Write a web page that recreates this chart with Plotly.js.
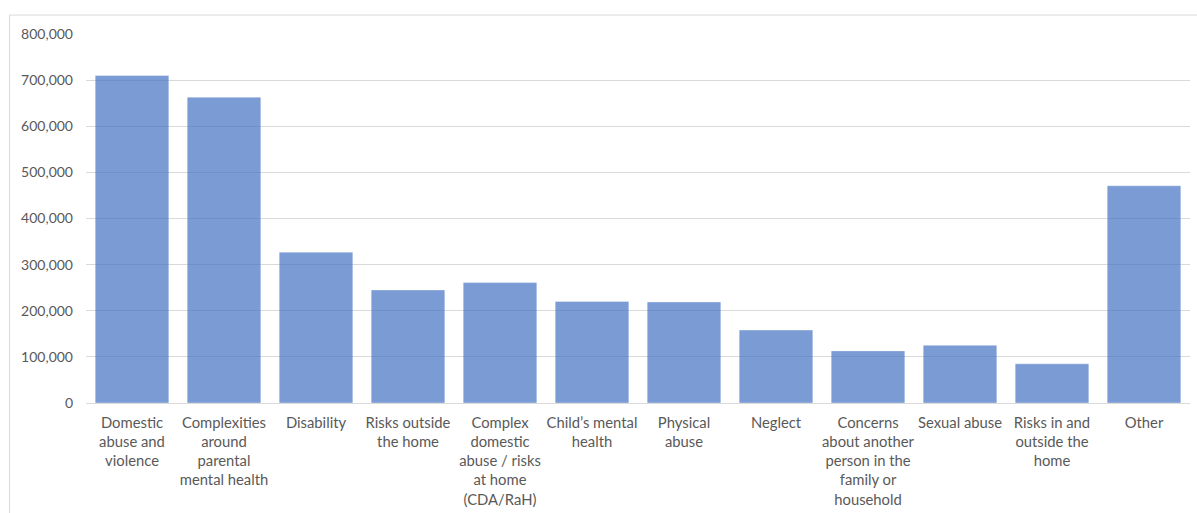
<!DOCTYPE html>
<html>
<head>
<meta charset="utf-8">
<script src="https://cdn.plot.ly/plotly-3.0.1.min.js"></script>
<style>
html,body{margin:0;padding:0;background:#fff;}
#chart{width:1197px;height:513px;}
</style>
</head>
<body>
<div id="chart"></div>
<script>
const categories = [
  "Domestic<br>abuse and<br>violence",
  "Complexities<br>around<br>parental<br>mental health",
  "Disability",
  "Risks outside<br>the home",
  "Complex<br>domestic<br>abuse / risks<br>at home<br>(CDA/RaH)",
  "Child’s mental<br>health",
  "Physical<br>abuse",
  "Neglect",
  "Concerns<br>about another<br>person in the<br>family or<br>household",
  "Sexual abuse",
  "Risks in and<br>outside the<br>home",
  "Other"
];
const values = [710000, 663000, 327000, 245000, 261000, 220000, 219000, 158000, 113000, 125000, 85000, 471000];
const yTickVals = [0, 100000, 200000, 300000, 400000, 500000, 600000, 700000, 800000];
const yTickText = ["0", "100,000", "200,000", "300,000", "400,000", "500,000", "600,000", "700,000", "800,000"];

const fontFamily = "Lato, 'Open Sans', sans-serif";
const textColor = "#595959";

const ml = 86, mr = 7, mt = 33.5, mb = 109.5;
const pw = 1197 - ml - mr, ph = 513 - mt - mb;

const trace = {
  type: "bar",
  x: categories,
  y: values,
  marker: {color: "#4472C4", line: {color: "rgba(255,255,255,0.35)", width: 1}},
  opacity: 0.7,
  hoverinfo: "x+y"
};

const layout = {
  width: 1197,
  height: 513,
  margin: {l: ml, r: mr, t: mt, b: mb, pad: 0},
  paper_bgcolor: "#ffffff",
  plot_bgcolor: "#ffffff",
  bargap: 0.2,
  showlegend: false,
  font: {family: fontFamily, size: 14, color: textColor},
  xaxis: {
    type: "category",
    showgrid: false,
    showline: true,
    linecolor: "#d9d9d9",
    linewidth: 1,
    ticks: "",
    tickangle: 0,
    ticklabelstandoff: 6,
    tickfont: {family: fontFamily, size: 14.8, color: textColor},
    automargin: false
  },
  yaxis: {
    range: [0, 800000],
    tickvals: yTickVals,
    ticktext: yTickText,
    showgrid: true,
    gridcolor: "#d9d9d9",
    gridwidth: 1,
    zeroline: false,
    showline: false,
    ticks: "",
    ticklabelstandoff: 12,
    tickfont: {family: fontFamily, size: 14, color: textColor},
    automargin: false
  },
  shapes: [{
    type: "rect",
    xref: "paper", yref: "paper",
    x0: (9.5 - ml) / pw, x1: 1.2,
    y0: -0.6, y1: (513 - mb - 14.5) / ph,
    line: {color: "#d9d9d9", width: 1},
    fillcolor: "rgba(0,0,0,0)",
    layer: "below"
  }]
};

Plotly.newPlot("chart", [trace], layout, {displayModeBar: false, staticPlot: true});
</script>
</body>
</html>
